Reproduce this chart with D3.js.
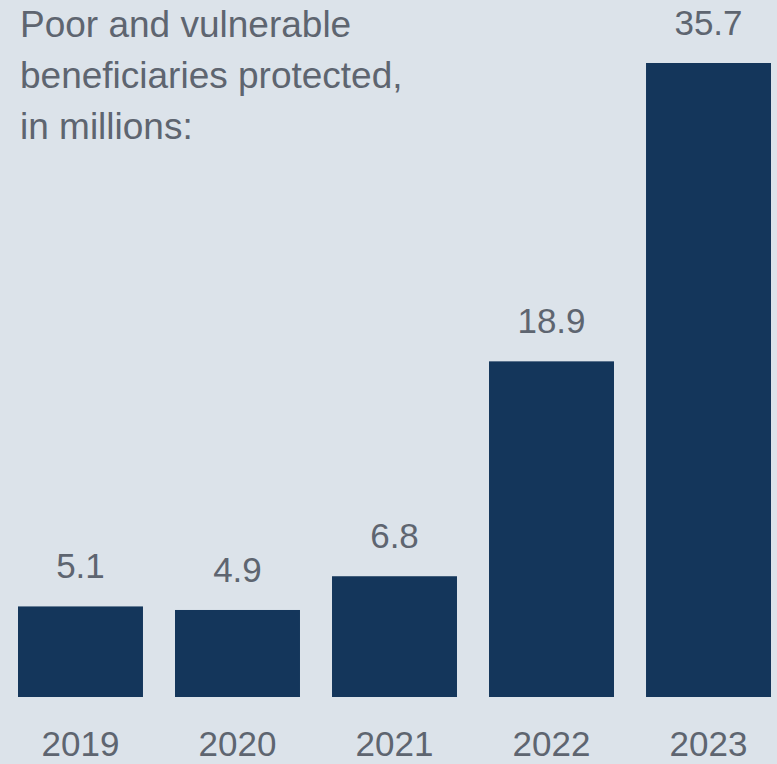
<!DOCTYPE html>
<html>
<head>
<meta charset="utf-8">
<script src="https://cdn.jsdelivr.net/npm/d3@7/dist/d3.min.js"></script>
<style>
  html, body { margin: 0; padding: 0; background: #dce3ea; }
  svg { display: block; }
</style>
</head>
<body>
<svg id="chart"></svg>
<script>
const years = ['2019', '2020', '2021', '2022', '2023'];
const values = [5.1, 4.9, 6.8, 18.9, 35.7];
const titleLines = ['Poor and vulnerable', 'beneficiaries protected,', 'in millions:'];

const [width, height] = [777, 764];
const baseY = 697;
const font = '"Liberation Sans", Arial, sans-serif';

const svg = d3.select('#chart')
    .attr('width', width)
    .attr('height', height);

svg.append('rect')
    .attr('width', width)
    .attr('height', height)
    .attr('fill', '#dce3ea');

const x = d3.scaleBand()
    .domain(years)
    .range([18, 771])
    .paddingInner(0.204)
    .paddingOuter(0);

const y = d3.scaleLinear()
    .domain([0, 35.7])
    .range([baseY, 63]);

const data = years.map((yr, i) => ({year: yr, value: values[i]}));

svg.selectAll('.bar')
    .data(data)
    .enter()
    .append('rect')
    .attr('class', 'bar')
    .attr('x', d => x(d.year))
    .attr('y', d => y(d.value))
    .attr('width', x.bandwidth())
    .attr('height', d => baseY - y(d.value))
    .attr('fill', '#14365b');

// value labels above bars
svg.selectAll('.val')
    .data(data)
    .enter()
    .append('text')
    .attr('class', 'val')
    .attr('x', d => x(d.year) + x.bandwidth() / 2)
    .attr('y', d => y(d.value) - 28)
    .attr('text-anchor', 'middle')
    .attr('font-family', font)
    .attr('font-size', 35)
    .attr('fill', '#5e6570')
    .text(d => d.value.toFixed(1));

// year labels (sit right at the bottom edge)
svg.selectAll('.yr')
    .data(data)
    .enter()
    .append('text')
    .attr('class', 'yr')
    .attr('x', d => x(d.year) + x.bandwidth() / 2)
    .attr('y', 756)
    .attr('text-anchor', 'middle')
    .attr('font-family', font)
    .attr('font-size', 35)
    .attr('fill', '#5e6570')
    .text(d => d.year);

// title
svg.append('text')
    .attr('font-family', font)
    .attr('font-size', 37)
    .attr('fill', '#5e6570')
    .selectAll('tspan')
    .data(titleLines)
    .enter()
    .append('tspan')
    .attr('x', 20)
    .attr('y', (d, i) => 37 + i * 51)
    .text(d => d);
</script>
</body>
</html>
